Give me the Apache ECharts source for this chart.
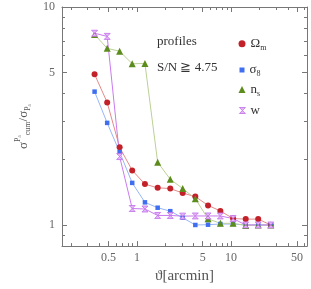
<!DOCTYPE html>
<html><head><meta charset="utf-8">
<script src="https://cdn.jsdelivr.net/npm/echarts@6/dist/echarts.min.js"></script>
<style>html,body{margin:0;padding:0;background:#fff}#c{width:311px;height:289px}</style>
</head><body><div id="c"></div>
<script>
const theta = [0.355, 0.483, 0.655, 0.891, 1.216, 1.66, 2.26, 3.06, 4.17, 5.69, 7.69, 10.5, 14.3, 19.4, 26.4];
const omegaM = [4.91, 3.65, 2.27, 1.78, 1.54, 1.48, 1.47, 1.40, 1.35, 1.23, 1.16, 1.07, 1.064, 1.064, 1.0];
const sigma8 = [4.09, 2.94, 2.16, 1.56, 1.27, 1.20, 1.157, 1.079, 1.0, 1.003, 1.01, 1.01, 1.0, 1.0, 1.0];
const nS = [7.48, 6.46, 6.27, 5.49, 5.51, 1.94, 1.62, 1.47, 1.32, 1.067, 1.018, 1.018, 0.995, 1.0, 1.0];
const wPar = [7.58, 7.33, 2.06, 1.19, 1.184, 1.106, 1.106, 1.098, 1.10, 1.10, 1.10, 1.07, 1.0, 1.0, 1.0];
const xMajor = [0.5, 1, 5, 10, 50];
const xMinor = [0.2, 0.3, 0.4, 0.6, 0.7, 0.8, 0.9, 2, 3, 4, 6, 7, 8, 9, 20, 30, 40, 60];
const yMajor = [1, 5, 10];
const yMinor = [0.9, 2, 3, 4, 6, 7, 8, 9];
const legendLabels = {Om: '{a|Ω}{s|m}', s8: '{a|σ}{s|8}', ns: '{a|n}{s|s}', w: '{a|w}'};

const serif = '"Liberation Serif", "DejaVu Serif", serif';
const axisCol = '#777';
const fmt = v => String(+(+v).toPrecision(3));

function xAx(pos, values, len, labels, line) {
  return {type: 'log', logBase: 10, min: 0.16, max: 64, position: pos,
    axisLine: {show: line, lineStyle: {color: axisCol, width: 1}},
    axisTick: {show: true, inside: true, length: len, customValues: values, lineStyle: {color: axisCol}},
    axisLabel: {show: labels, customValues: values, formatter: fmt, color: '#666', fontFamily: serif, fontSize: 12, margin: 6},
    splitLine: {show: false}, minorTick: {show: false}};
}
function yAx(pos, values, len, labels, line) {
  return {type: 'log', logBase: 10, min: 0.8, max: 10, position: pos,
    axisLine: {show: line, lineStyle: {color: axisCol, width: 1}},
    axisTick: {show: true, inside: true, length: len, customValues: values, lineStyle: {color: axisCol}},
    axisLabel: {show: labels, customValues: values, formatter: fmt, color: '#666', fontFamily: serif, fontSize: 12, margin: 7},
    splitLine: {show: false}, minorTick: {show: false}};
}

const xAxes = [
  xAx('bottom', xMajor, 5, true, true),
  xAx('bottom', xMinor, 3, false, false),
  xAx('top', xMajor, 5, false, true),
  xAx('top', xMinor, 3, false, false)
];
Object.assign(xAxes[0], {name: 'ϑ[arcmin]', nameLocation: 'middle', nameGap: 19,
  nameTextStyle: {fontFamily: serif, fontSize: 15, color: '#555'}});
const yAxes = [
  yAx('left', yMajor, 5, true, true),
  yAx('left', yMinor, 3, false, false),
  yAx('right', yMajor, 5, false, true),
  yAx('right', yMinor, 3, false, false)
];
Object.assign(yAxes[0], {name: '{m|σ}{sup|Pₐ}{sub|cum}{m|/σ}{sub|Pₐ}', nameLocation: 'middle', nameGap: 28, nameRotate: 90,
  nameTextStyle: {color: '#555', rich: {
    m: {fontFamily: serif, fontSize: 13, lineHeight: 18, verticalAlign: 'middle', color: '#555'},
    sup: {fontFamily: serif, fontSize: 8, lineHeight: 9, verticalAlign: 'top', color: '#555'},
    sub: {fontFamily: serif, fontSize: 8, lineHeight: 9, verticalAlign: 'bottom', color: '#555'}
  }}});

function pairs(vals) { return theta.map((t, i) => [t, vals[i]]); }

const wSym = 'path://M0,0L10,0L5,5L10,10L0,10L5,5Z';
const seriesDef = [
  {name: 'Om', data: omegaM, symbol: 'circle', size: 6, line: '#e58a8a', mark: '#c3212a', border: '#c3212a'},
  {name: 's8', data: sigma8, symbol: 'rect', size: 4.5, line: '#98b6f6', mark: '#3f6ff0', border: '#3f6ff0'},
  {name: 'ns', data: nS, symbol: 'triangle', size: 7, line: '#bcd096', mark: '#5c8c1c', border: '#5c8c1c'},
  {name: 'w', data: wPar, symbol: wSym, size: 6, line: '#c97af0', mark: '#e6b8f7', border: '#c06ee8'}
];

const series = seriesDef.map(s => ({
  name: s.name, type: 'line', xAxisIndex: 0, yAxisIndex: 0, data: pairs(s.data),
  symbol: s.symbol, symbolSize: s.size, showSymbol: true,
  lineStyle: {color: s.line, width: 1},
  itemStyle: {color: s.mark, borderColor: s.border, borderWidth: s.name === 'w' ? 0.8 : 0},
  emphasis: {disabled: true}, animation: false, z: 2
}));

const legendRows = [40.7, 66, 86.5, 107];
const legends = seriesDef.map((s, i) => ({
  show: true, orient: 'vertical', left: 238.5, top: legendRows[i] - 3.5, padding: 0,
  itemWidth: 7, itemHeight: 7, itemGap: 0, selectedMode: false,
  data: [{name: s.name, icon: s.symbol,
    itemStyle: {color: s.mark, borderColor: s.border, borderWidth: s.name === 'w' ? 0.8 : 0}}],
  formatter: n => legendLabels[n],
  textStyle: {rich: {
    a: {fontFamily: serif, fontSize: 13, lineHeight: 16, verticalAlign: 'middle', color: '#333'},
    s: {fontFamily: serif, fontSize: 8, lineHeight: 8, verticalAlign: 'bottom', color: '#333'}
  }}
}));
legends[1].itemWidth = 5; legends[1].itemHeight = 5; legends[1].left = 239.5; legends[1].top = legendRows[1] - 2.5;
legends[3].itemWidth = 6; legends[3].itemHeight = 6; legends[3].left = 239; legends[3].top = legendRows[3] - 3;

const chart = echarts.init(document.getElementById('c'), null, {renderer: 'canvas'});
chart.setOption({
  animation: false,
  grid: {left: 62, right: 4, top: 7, bottom: 38, containLabel: false},
  xAxis: xAxes, yAxis: yAxes,
  legend: legends,
  series: series,
  graphic: [
    {type: 'text', left: 157, top: 35, style: {text: 'profiles', font: '13px ' + serif, fill: '#333'}},
    {type: 'text', left: 157, top: 61, style: {text: 'S/N ≧ 4.75', font: '13px ' + serif, fill: '#333'}}
  ]
});
</script></body></html>
